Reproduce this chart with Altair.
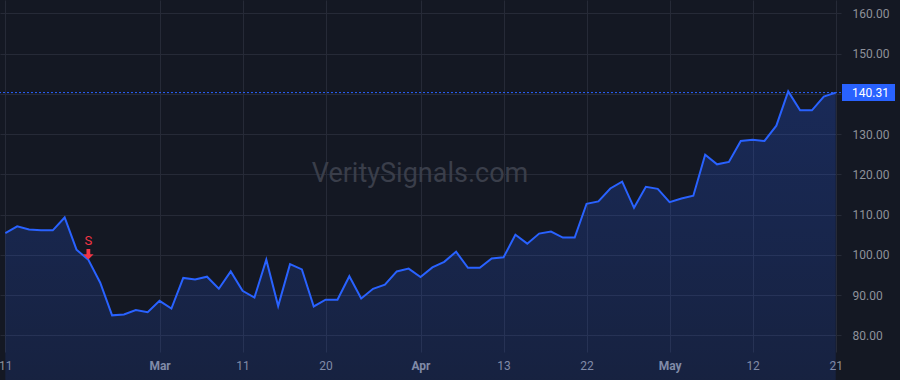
import altair as alt
import pandas as pd
import json

# ---- data ----
prices = [105.4, 107.1, 106.3, 106.1, 106.1, 109.3, 101.3, 98.8, 93.1, 85.0,
          85.2, 86.3, 85.8, 88.6, 86.7, 94.3, 93.9, 94.6, 91.6, 95.9,
          91.1, 89.4, 98.8, 87.3, 97.7, 96.4, 87.2, 88.9, 88.9, 94.7,
          89.2, 91.6, 92.6, 95.9, 96.6, 94.5, 96.9, 98.3, 100.8, 96.8,
          96.8, 99.1, 99.4, 105.0, 102.8, 105.3, 105.8, 104.3, 104.3, 112.7,
          113.3, 116.5, 118.2, 111.7, 116.9, 116.4, 113.1, 114.0, 114.7, 124.9,
          122.5, 123.1, 128.3, 128.6, 128.3, 132.1, 140.6, 135.9, 135.9, 139.3,
          140.31]
tick_index = [0, 13, 20, 27, 35, 42, 49, 56, 63, 70]
tick_labels = ["11", "Mar", "11", "20", "Apr", "13", "22", "May", "12", "21"]
month_labels = ["Mar", "Apr", "May"]
y_ticks = [80, 90, 100, 110, 120, 130, 140, 150, 160]
signal_index = [7]
signal_text = ["S"]
last_price = prices[-1]
watermark = "VeritySignals.com"

# ---- style ----
BG = "#141823"
GRID = "#262a37"
BLUE = "#2962ff"
LABEL = "#8e919a"
RED = "#f23645"
FONT = "Roboto"
W, H = 841, 352

df = pd.DataFrame({"i": list(range(len(prices))), "v": prices})
sig = pd.DataFrame({"i": signal_index, "v": [prices[k] for k in signal_index], "t": signal_text})
last = pd.DataFrame({"v": [last_price], "t": [f"{last_price:.2f}"]})
wm = pd.DataFrame({"t": [watermark]})

label_expr = f"{json.dumps(tick_labels)}[indexof({json.dumps(tick_index)}, datum.value)]"
bold_idx = [tick_index[k] for k, l in enumerate(tick_labels) if l in month_labels]
bold_test = f"indexof({json.dumps(bold_idx)}, datum.value) >= 0"

xscale = alt.Scale(domain=[-0.45, 70.45], nice=False, zero=False)
yscale = alt.Scale(domain=[75.9, 163.3], nice=False, zero=False)

x_enc = alt.X("i:Q", scale=xscale, axis=alt.Axis(
    values=tick_index, labelExpr=label_expr, title=None, grid=True,
    gridColor=GRID, gridWidth=1, domain=False, ticks=False,
    labelColor=LABEL, labelFont=FONT, labelFontSize=12, labelPadding=8,
    labelFontWeight={"condition": {"test": bold_test, "value": "bold"}, "value": "normal"},
    labelAlign="center", labelOverlap=False, labelFlush=False))
y_enc = alt.Y("v:Q", scale=yscale, axis=alt.Axis(
    orient="right", values=y_ticks, format=".2f", title=None, grid=True,
    gridColor=GRID, gridWidth=1, domain=False, ticks=False,
    labelColor=LABEL, labelFont=FONT, labelFontSize=12, labelPadding=11,
    labelAlign="left", labelBaseline="middle", labelOverlap=False, labelFlush=False))

area = alt.Chart(df).mark_area(
    line=False,
    color=alt.Gradient(
        gradient="linear",
        stops=[alt.GradientStop(color="rgba(41,98,255,0.24)", offset=0),
               alt.GradientStop(color="rgba(41,98,255,0.03)", offset=1)],
        x1=1, x2=1, y1=0, y2=1),
).encode(x=x_enc, y=y_enc)

line = alt.Chart(df).mark_line(color=BLUE, strokeWidth=2).encode(
    x=alt.X("i:Q", scale=xscale), y=alt.Y("v:Q", scale=yscale))

price_line = alt.Chart(last).mark_rule(color=BLUE, strokeWidth=1, strokeDash=[2, 2]).encode(
    y=alt.Y("v:Q", scale=yscale))

price_box = alt.Chart(last).mark_point(
    shape="M-1,-0.32 L1,-0.32 L1,0.32 L-1,0.32 Z", filled=True, opacity=1,
    size=53 * 53, color=BLUE, strokeWidth=0).encode(
    x=alt.value(868.5), y=alt.Y("v:Q", scale=yscale))

price_text = alt.Chart(last).mark_text(
    color="white", font=FONT, fontSize=12, align="left", baseline="middle").encode(
    x=alt.value(852), y=alt.Y("v:Q", scale=yscale), text="t:N")

arrow = alt.Chart(sig).mark_point(
    shape="M-0.36,-1 L0.36,-1 L0.36,0 L1,0 L0,1 L-1,0 L-0.36,0 Z",
    filled=True, opacity=1, size=110, color=RED, strokeWidth=0, yOffset=-5.5).encode(
    x=alt.X("i:Q", scale=xscale), y=alt.Y("v:Q", scale=yscale))

sig_text = alt.Chart(sig).mark_text(
    color=RED, font=FONT, fontSize=13, baseline="middle", yOffset=-18.5).encode(
    x=alt.X("i:Q", scale=xscale), y=alt.Y("v:Q", scale=yscale), text="t:N")

wm_text = alt.Chart(wm).mark_text(
    color="#3a3e4a", font=FONT, fontSize=27, align="center", baseline="middle").encode(
    x=alt.value(420), y=alt.value(174), text="t:N")

chart = alt.layer(wm_text, area, line, price_line, price_box, price_text, arrow, sig_text).properties(
    width=W, height=H,
    autosize=alt.AutoSizeParams(type="none"),
    padding={"left": 0, "top": 0, "right": 900 - W, "bottom": 380 - H},
    background=BG,
).configure_view(stroke=None)

chart.save("out.html", embed_options={"renderer": "svg", "actions": False})
